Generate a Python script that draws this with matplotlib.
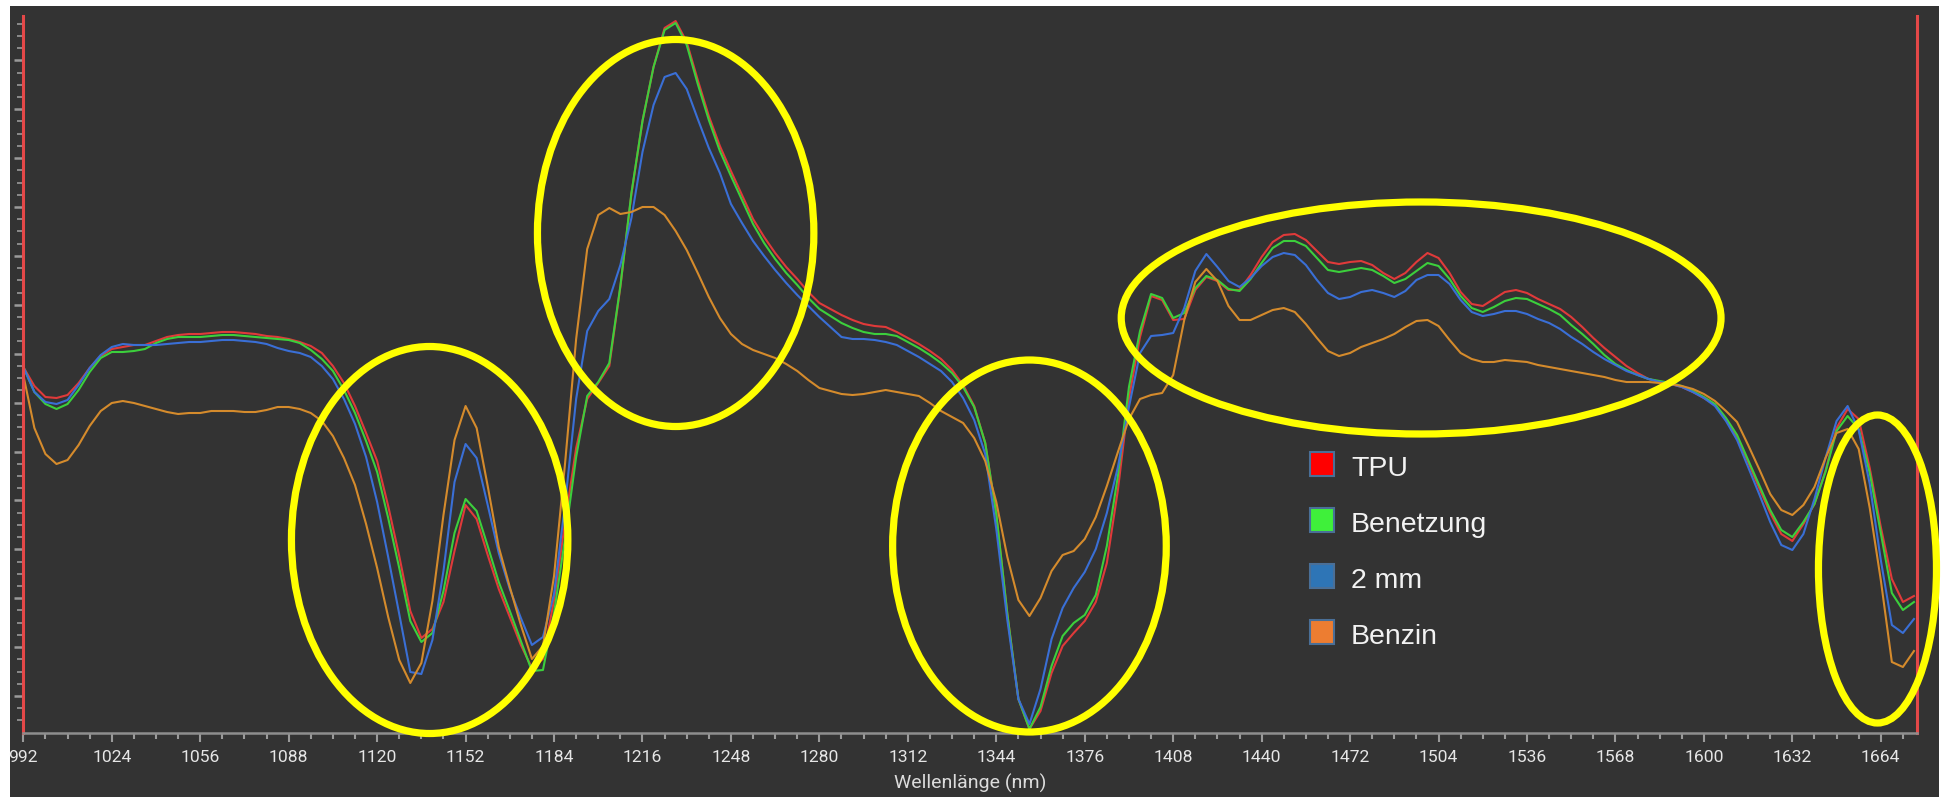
import numpy as np
import matplotlib
matplotlib.use("Agg")
import matplotlib.pyplot as plt
from matplotlib.patches import Ellipse, Rectangle

# ---------------------------------------------------------------- data
wavelength_nm = np.arange(992, 1677, 4)          # 992 ... 1676 nm, 4 nm steps

tpu = [
    366, 347, 336, 335, 338, 350, 365, 377, 384, 386,
    388, 388, 392, 396, 398, 399, 399, 400, 401, 401,
    400, 399, 397, 396, 394, 391, 387, 380, 367, 350,
    327, 300, 272, 227, 177, 122, 95, 104, 131, 182,
    228, 214, 178, 144, 116, 88, 65, 74, 133, 211,
    285, 334, 350, 367, 446, 539, 612, 666, 705, 712,
    691, 653, 617, 587, 562, 538, 514, 496, 480, 466,
    454, 441, 430, 424, 418, 413, 409, 407, 406, 401,
    395, 389, 382, 374, 363, 348, 327, 290, 219, 119,
    34, 4, 22, 60, 87, 100, 112, 131, 170, 243,
    335, 396, 437, 433, 413, 414, 443, 456, 452, 443,
    443, 458, 476, 491, 498, 499, 493, 482, 471, 469,
    471, 472, 468, 460, 454, 460, 471, 480, 475, 460,
    441, 429, 427, 434, 441, 443, 440, 434, 429, 424,
    416, 406, 395, 385, 376, 367, 360, 354, 351, 349,
    346, 341, 335, 328, 313, 296, 271, 245, 220, 199,
    192, 209, 229, 262, 305, 324, 314, 265, 206, 154,
    131, 137,
]

benetzung = [
    366, 341, 329, 324, 329, 343, 361, 375, 381, 381,
    382, 384, 390, 394, 396, 396, 396, 397, 398, 398,
    397, 396, 395, 394, 393, 390, 383, 374, 362, 343,
    320, 292, 261, 215, 165, 112, 91, 100, 142, 200,
    234, 222, 187, 151, 122, 92, 62, 63, 120, 195,
    276, 337, 351, 370, 447, 540, 612, 666, 703, 710,
    688, 649, 613, 582, 557, 533, 509, 490, 474, 460,
    448, 435, 424, 417, 410, 405, 401, 399, 399, 397,
    391, 385, 378, 370, 360, 346, 326, 290, 219, 119,
    34, 4, 26, 67, 97, 110, 118, 138, 187, 257,
    346, 402, 439, 435, 415, 420, 445, 457, 453, 444,
    442, 454, 470, 485, 492, 492, 487, 475, 463, 461,
    463, 465, 463, 457, 450, 454, 462, 470, 467, 454,
    437, 425, 421, 426, 432, 435, 434, 429, 424, 418,
    408, 399, 389, 378, 369, 363, 358, 354, 352, 350,
    347, 342, 336, 329, 315, 298, 273, 248, 223, 203,
    196, 211, 229, 261, 302, 317, 304, 260, 200, 140,
    123, 131,
]

mm2 = [
    366, 341, 331, 329, 333, 348, 365, 378, 386, 389,
    388, 388, 388, 389, 390, 391, 391, 392, 393, 393,
    392, 391, 389, 385, 382, 380, 376, 367, 354, 334,
    309, 276, 231, 176, 119, 61, 59, 93, 162, 251,
    289, 275, 228, 180, 144, 115, 88, 96, 139, 229,
    334, 402, 422, 434, 468, 515, 581, 628, 656, 660,
    644, 614, 585, 560, 529, 510, 492, 477, 463, 450,
    438, 427, 416, 406, 396, 394, 394, 393, 391, 388,
    382, 376, 369, 362, 351, 335, 313, 279, 204, 113,
    34, 9, 44, 94, 125, 145, 161, 184, 220, 266,
    326, 380, 397, 398, 400, 425, 462, 479, 466, 452,
    446, 455, 467, 476, 480, 478, 468, 453, 440, 434,
    436, 441, 443, 440, 436, 442, 453, 458, 458, 449,
    433, 421, 417, 419, 422, 422, 419, 414, 410, 404,
    396, 389, 381, 374, 368, 362, 358, 354, 351, 349,
    346, 341, 335, 327, 312, 293, 266, 239, 211, 188,
    183, 199, 234, 275, 312, 327, 303, 249, 173, 108,
    100, 114,
]

benzin = [
    358, 305, 279, 269, 273, 288, 307, 322, 330, 332,
    330, 327, 324, 321, 319, 320, 320, 322, 322, 322,
    321, 321, 323, 326, 326, 324, 320, 312, 297, 275,
    248, 209, 165, 116, 73, 50, 70, 132, 218, 293,
    327, 305, 247, 186, 146, 108, 74, 87, 157, 270,
    394, 484, 518, 525, 519, 521, 526, 526, 518, 502,
    483, 460, 436, 415, 399, 389, 383, 379, 375, 369,
    362, 353, 345, 342, 339, 338, 339, 341, 343, 341,
    339, 337, 330, 322, 316, 310, 295, 272, 231, 176,
    133, 117, 135, 162, 178, 182, 194, 216, 247, 281,
    314, 334, 338, 340, 358, 413, 451, 464, 452, 427,
    413, 413, 418, 423, 425, 421, 409, 395, 382, 377,
    380, 386, 390, 394, 399, 406, 412, 413, 407, 393,
    380, 374, 371, 371, 373, 372, 371, 368, 366, 364,
    362, 360, 358, 356, 353, 351, 351, 351, 350, 349,
    347, 344, 339, 332, 322, 311, 288, 264, 239, 223,
    218, 228, 246, 275, 300, 304, 284, 225, 153, 71,
    66, 82,
]

series_labels = ["TPU", "Benetzung", "2 mm", "Benzin"]
series_values = [tpu, benetzung, mm2, benzin]
line_colors = ["#e03a3a", "#3ccf3c", "#3a6fd6", "#d58b2c"]
legend_colors = ["#ff0000", "#3ff03a", "#2e75b6", "#ed7d31"]

# highlighted spectral regions: (centre nm, centre value, width nm, height)
highlights = [
    (1139.0, 193, 100.0, 387),
    (1228.0, 500, 100.0, 387),
    (1356.0, 187, 99.0, 372),
    (1497.7, 415, 217.0, 232),
    (1662.8, 164, 42.7, 308),
]

# ---------------------------------------------------------------- figure
W, H = 1945, 797
BG = "#333333"
fig = plt.figure(figsize=(W / 100, H / 100), dpi=100, facecolor="white")
fig.patches.append(Rectangle((10 / W, 0), 1929 / W, 791 / H,
                             transform=fig.transFigure, facecolor=BG,
                             edgecolor="none", zorder=-10))

left_px, right_px, top_px, bottom_px = 22.5, 1917.0, 16.0, 733.0
ax = fig.add_axes([left_px / W, 1 - bottom_px / H,
                   (right_px - left_px) / W, (bottom_px - top_px) / H])
ax.set_facecolor(BG)
ax.set_xlim(991.7, 1677.1)
ax.set_ylim(0, 717)

for label, vals, col in zip(series_labels, series_values, line_colors):
    ax.plot(wavelength_nm, vals, color=col, lw=1.5, label=label,
            solid_joinstyle="round")

for cx, cy, w, h in highlights:
    ax.add_patch(Ellipse((cx, cy), w, h, fill=False, edgecolor="#ffff00",
                         lw=5.2, clip_on=False, zorder=6))

# spines
for side in ("left", "right"):
    ax.spines[side].set_color("#e44848")
    ax.spines[side].set_linewidth(2.2)
ax.spines["top"].set_visible(False)
ax.spines["bottom"].set_color("#8e8e8e")
ax.spines["bottom"].set_linewidth(1.8)

# ticks
ax.set_xticks(np.arange(992, 1677, 32))
ax.set_xticks(np.arange(992, 1677, 8), minor=True)
ax.set_yticks(37 + 48.9 * np.arange(14))
ax.set_yticks(37 + 12.225 * np.arange(-2, 56), minor=True)
ax.tick_params(axis="x", which="major", direction="out", length=6.5,
               width=1.5, color="#9a9a9a", pad=5.5, labelsize=12.6,
               labelcolor="#e6e6e6")
ax.tick_params(axis="x", which="minor", direction="out", length=4,
               width=1.5, color="#9a9a9a")
ax.tick_params(axis="y", which="major", direction="out", length=6.5,
               width=1.8, color="#9a9a9a", labelleft=False)
ax.tick_params(axis="y", which="minor", direction="out", length=4.2,
               width=1.2, color="#9a9a9a")
for t in ax.get_xticklabels():
    t.set_family(["Roboto", "DejaVu Sans"])

ax.set_xlabel("Wellenlänge (nm)", family=["Roboto", "DejaVu Sans"],
              fontsize=14, color="#dcdcdc")
ax.xaxis.set_label_coords(0.5, -(774 - bottom_px) / (bottom_px - top_px))

# legend drawn as coloured boxes with labels
box_x, box_size = 1309.5, 24.5
row_top = [451.5, 507.5, 563.5, 619.5]
for lab, col, yt in zip(series_labels, legend_colors, row_top):
    fig.patches.append(Rectangle((box_x / W, 1 - (yt + box_size) / H),
                                 box_size / W, box_size / H,
                                 transform=fig.transFigure, facecolor=col,
                                 edgecolor="#4a6f97", lw=1.5, zorder=20))
    fig.text(1351 / W, 1 - (yt + box_size) / H, lab,
             family=["Liberation Sans", "DejaVu Sans"], fontsize=20.5,
             color="#f2f2f2", va="baseline", ha="left", zorder=21)

fig.savefig("out.png", dpi=100, facecolor=fig.get_facecolor())
